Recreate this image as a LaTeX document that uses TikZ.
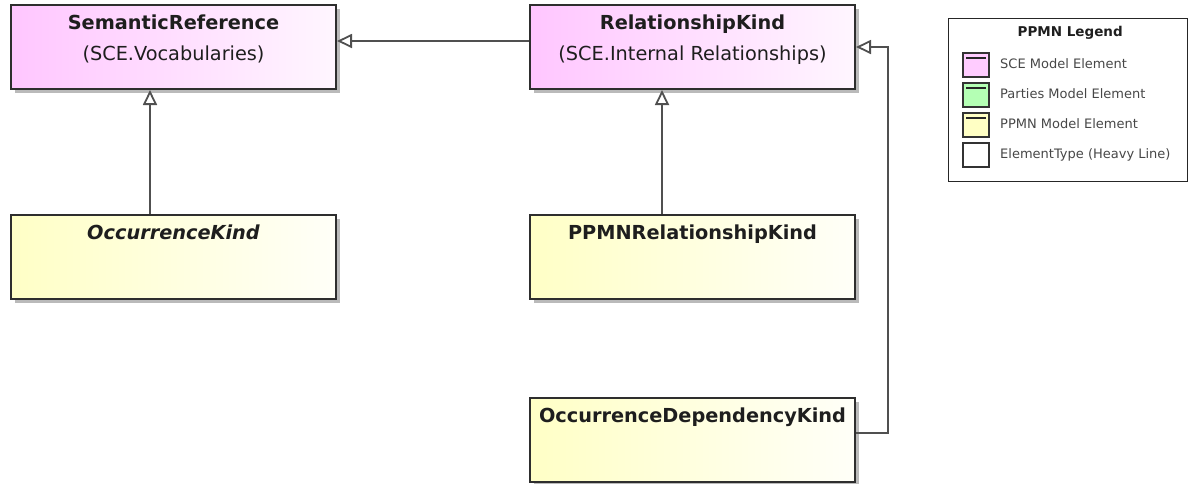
\documentclass[tikz,border=0pt]{standalone}
\usepackage{fontspec}
\setmainfont{DejaVu Sans}
\usetikzlibrary{arrows.meta,shadows,calc}
\definecolor{sceL}{HTML}{FFC6FF}
\definecolor{sceR}{HTML}{FFF6FF}
\definecolor{ppL}{HTML}{FFFFC6}
\definecolor{ppR}{HTML}{FFFFF8}
\definecolor{swSce}{HTML}{FFCCFF}
\definecolor{swPar}{HTML}{B4FFB4}
\definecolor{swPpmn}{HTML}{FFFFC4}
\definecolor{edge}{HTML}{505050}
\definecolor{ink}{HTML}{1E1E1E}
\begin{document}
\begin{tikzpicture}[x=1pt,y=-1pt,
  elem/.style={draw=black!82, line width=2pt, minimum width=325pt,
    minimum height=84pt, anchor=north west, inner sep=0pt,
    drop shadow={shadow xshift=4pt, shadow yshift=-4pt, fill=black!30, opacity=0.9}},
  sce/.style={elem, left color=sceL, right color=sceR},
  ppmn/.style={elem, left color=ppL, right color=ppR},
  ttl/.style={font=\fontsize{19.3}{22}\selectfont\bfseries, text=ink, inner sep=0pt, anchor=base},
  sub/.style={font=\fontsize{19.3}{22}\selectfont, text=ink, inner sep=0pt, anchor=base},
  gen/.style={draw=edge, line width=1.8pt,
    -{Triangle[open, length=15pt, width=14pt]}},
  legbox/.style={draw=black!85, line width=1.3pt, minimum width=239pt,
    minimum height=163pt, anchor=north west, inner sep=0pt},
  legtitle/.style={font=\fontsize{13.5}{16}\selectfont\bfseries, text=ink, inner sep=0pt, anchor=base},
  swatch/.style={draw=black!80, line width=2pt, minimum width=26pt,
    minimum height=24pt, anchor=north west, inner sep=0pt},
  legtext/.style={font=\fontsize{13}{15}\selectfont, text=black!72, inner sep=0pt,
    anchor=west, text height=9.5pt, text depth=2.5pt},
  swline/.style={draw=black!85, line width=1.6pt},
]
\useasboundingbox (0,0) rectangle (1190,483);

% class boxes
\node[sce]  (sr)  at (10,4)    {};
\node[sce]  (rk)  at (529,4)   {};
\node[ppmn] (ok)  at (10,214)  {};
\node[ppmn] (pr)  at (529,214) {};
\node[ppmn] (odk) at (529,397) {};

% class names
\node[ttl] (srT)  at ($(sr.north)+(0,25)$)  {SemanticReference};
\node[sub] (srS)  at ($(sr.north)+(0,56)$)  {(SCE.Vocabularies)};
\node[ttl] (rkT)  at ($(rk.north)+(0,25)$)  {RelationshipKind};
\node[sub] (rkS)  at ($(rk.north)+(0,56)$)  {(SCE.Internal Relationships)};
\node[ttl] (okT)  at ($(ok.north)+(0,25)$)  {\itshape OccurrenceKind};
\node[ttl] (prT)  at ($(pr.north)+(0,25)$)  {PPMNRelationshipKind};
\node[ttl] (odkT) at ($(odk.north)+(0,25)$) {OccurrenceDependencyKind};

% generalizations
\draw[gen] ([yshift=6pt]rk.west) -- ([yshift=6pt]sr.east);
\draw[gen] ([xshift=-23.5pt]ok.north) -- ([xshift=-23.5pt]sr.south);
\draw[gen] ([xshift=-30.5pt]pr.north) -- ([xshift=-30.5pt]rk.south);
\draw[gen] ([yshift=7pt]odk.east) -- ++(32,0) |- (rk.east);

% legend
\node[legbox] (leg) at (948,18) {};
\node[legtitle] (legT) at ($(leg.north)+(2,18)$) {PPMN Legend};

\node[swatch, fill=swSce]  (s1) at (962,52)  {};
\node[swatch, fill=swPar]  (s2) at (962,82)  {};
\node[swatch, fill=swPpmn] (s3) at (962,112) {};
\node[swatch, fill=white]  (s4) at (962,142) {};

\foreach \s in {s1,s2,s3}
  \draw[swline] ([xshift=4pt,yshift=-6pt]\s.north west) -- ([xshift=-4pt,yshift=-6pt]\s.north east);

\node[legtext] (l1) at ($(s1.east)+(10,0)$) {SCE Model Element};
\node[legtext] (l2) at ($(s2.east)+(10,0)$) {Parties Model Element};
\node[legtext] (l3) at ($(s3.east)+(10,0)$) {PPMN Model Element};
\node[legtext] (l4) at ($(s4.east)+(10,0)$) {ElementType (Heavy Line)};
\end{tikzpicture}
\end{document}
